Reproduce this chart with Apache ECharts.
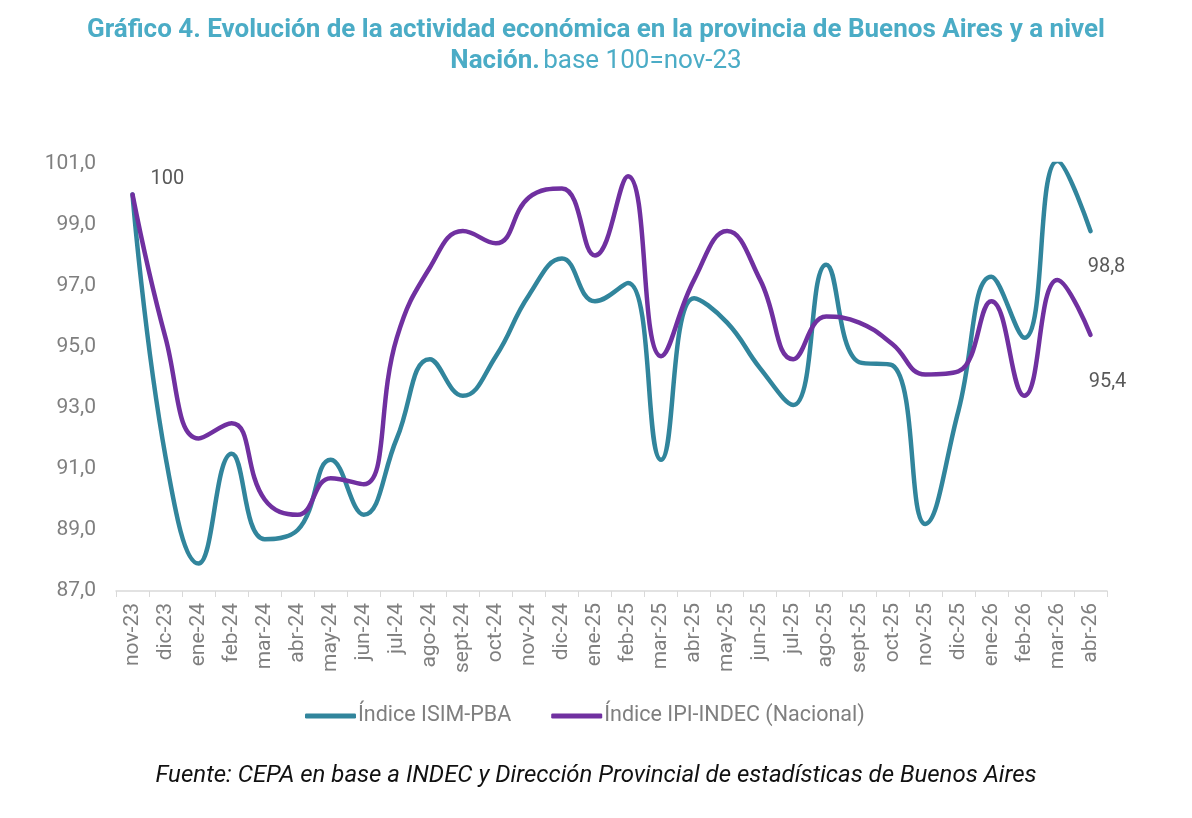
<!DOCTYPE html>
<html>
<head>
<meta charset="utf-8">
<script src="https://cdn.jsdelivr.net/npm/echarts@6/dist/echarts.min.js"></script>
<style>
  html, body { margin: 0; padding: 0; background: #fff; }
  #chart { width: 1192px; height: 818px; }
</style>
</head>
<body>
<div id="chart"></div>
<script>
const MONTHS = ["nov-23","dic-23","ene-24","feb-24","mar-24","abr-24","may-24","jun-24","jul-24","ago-24",
    "sept-24","oct-24","nov-24","dic-24","ene-25","feb-25","mar-25","abr-25","may-25","jun-25",
    "jul-25","ago-25","sept-25","oct-25","nov-25","dic-25","ene-26","feb-26","mar-26","abr-26"];

const ISIM_PBA = [100, 91.4, 87.9, 91.5, 88.7, 89.0, 91.3, 89.5, 92.0, 94.6,
    93.4, 94.7, 96.7, 97.9, 96.5, 97.1, 91.3, 96.6, 95.8, 94.3,
    93.1, 97.7, 94.5, 94.4, 89.2, 92.9, 97.3, 95.3, 101.1, 98.8];

const IPI_INDEC = [100, 95.3, 92.0, 92.5, 90.0, 89.5, 90.7, 90.5, 95.3, 97.6,
    98.8, 98.4, 99.9, 100.2, 98.0, 100.6, 94.7, 97.2, 98.8, 97.2,
    94.6, 96.0, 95.8, 95.1, 94.1, 94.2, 96.5, 93.4, 97.2, 95.4];

const SERIES_NAMES = ["Índice ISIM-PBA", "Índice IPI-INDEC (Nacional)"];
const COLORS = ["#31859C", "#7030A0"];

const fmt = (v) => v === 100 ? "100" : v.toFixed(1).replace(".", ",");

// only the first and last points carry a value label
function withLabels(values, labelIdx, labelOpts) {
    return values.map((v, i) => {
        const item = { value: v };
        const opt = labelOpts[labelIdx.indexOf(i)];
        if (opt) item.label = Object.assign({ show: true }, opt);
        return item;
    });
}

const labelBase = {
    color: "#595959",
    fontSize: 20,
    fontFamily: "Roboto",
    formatter: (p) => fmt(p.value)
};

const chart = echarts.init(document.getElementById("chart"));
const last = MONTHS.length - 1;

chart.setOption({
    backgroundColor: "#fff",
    animation: false,
    textStyle: { fontFamily: "Roboto" },
    grid: { left: 116, right: 85, top: 164, bottom: 227 },
    legend: {
        bottom: 86,
        left: 300,
        icon: "roundRect",
        itemWidth: 51,
        itemHeight: 5,
        itemGap: 40,
        textStyle: { color: "#7F7F7F", fontSize: 21.5, fontFamily: "Roboto", padding: [0, 0, 0, -3] },
        data: SERIES_NAMES
    },
    xAxis: {
        type: "category",
        data: MONTHS,
        boundaryGap: true,
        axisLine: { lineStyle: { color: "#D9D9D9", width: 1.5 } },
        axisTick: { show: true, length: 6, lineStyle: { color: "#D9D9D9" } },
        axisLabel: { rotate: 90, color: "#7F7F7F", fontSize: 21, fontFamily: "Roboto", margin: 12, interval: 0 }
    },
    yAxis: {
        type: "value",
        min: 87,
        max: 101,
        interval: 2,
        splitLine: { show: false },
        axisLine: { show: false },
        axisTick: { show: false },
        axisLabel: {
            color: "#7F7F7F",
            fontSize: 21,
            fontFamily: "Roboto",
            margin: 20,
            formatter: (v) => v.toFixed(1).replace(".", ",")
        }
    },
    series: [
        {
            name: SERIES_NAMES[0],
            type: "line",
            smooth: 0.45,
            symbol: "circle",
            symbolSize: 0,
            showSymbol: true,
            color: COLORS[0],
            lineStyle: { width: 4.5, color: COLORS[0], cap: "round" },
            z: 2,
            data: withLabels(ISIM_PBA, [0, last], [
                Object.assign({}, labelBase, { position: "right", distance: 18, offset: [0, -16] }),
                Object.assign({}, labelBase, { position: "bottom", distance: 26, offset: [16, 0] })
            ])
        },
        {
            name: SERIES_NAMES[1],
            type: "line",
            smooth: 0.45,
            symbol: "circle",
            symbolSize: 0,
            showSymbol: true,
            color: COLORS[1],
            lineStyle: { width: 4.5, color: COLORS[1], cap: "round" },
            z: 3,
            data: withLabels(IPI_INDEC, [last], [
                Object.assign({}, labelBase, { position: "bottom", distance: 37, offset: [17, 0] })
            ])
        }
    ],
    graphic: [
        {
            type: "text",
            left: "center",
            top: 17,
            style: {
                text: "Gráfico 4. Evolución de la actividad económica en la provincia de Buenos Aires y a nivel",
                fontSize: 26,
                fontWeight: "bold",
                fontFamily: "Roboto",
                fill: "#4BACC6"
            }
        },
        {
            type: "text",
            left: "center",
            top: 48,
            style: {
                text: "{b|Nación.} {n|base 100=nov-23}",
                rich: {
                    b: { fontSize: 26, fontWeight: "bold", fontFamily: "Roboto", fill: "#4BACC6" },
                    n: { fontSize: 26, fontFamily: "Roboto", fill: "#4BACC6" }
                }
            }
        },
        {
            type: "text",
            left: "center",
            top: 764,
            style: {
                text: "Fuente: CEPA en base a INDEC y Dirección Provincial de estadísticas de Buenos Aires",
                fontSize: 24,
                fontStyle: "italic",
                fontFamily: "Roboto",
                fill: "#111111"
            }
        }
    ]
});
</script>
</body>
</html>
